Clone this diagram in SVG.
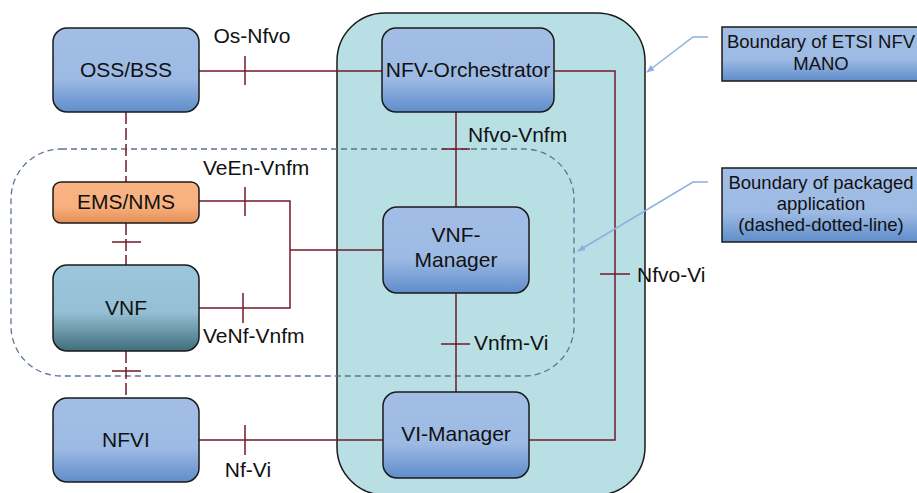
<svg xmlns="http://www.w3.org/2000/svg" width="917" height="493" viewBox="0 0 917 493">
  <style>
    .node { stroke: #1a1a1a; stroke-width: 1.5; }
    .lbl { font-family: "Liberation Sans", Arial, sans-serif; font-size: 21px; fill: #111; text-anchor: middle; }
    .ifc { font-family: "Liberation Sans", Arial, sans-serif; font-size: 21px; fill: #111; }
    .note { font-family: "Liberation Sans", Arial, sans-serif; font-size: 18.5px; fill: #111; text-anchor: middle; }
    .wire { fill: none; stroke: #74192a; stroke-width: 1.5; }
    .dash { fill: none; stroke: #74192a; stroke-width: 1.5; stroke-dasharray: 12 4; }
    .tick { stroke: #74192a; stroke-width: 1.5; }
    .pointer { fill: none; stroke: #8db0e0; stroke-width: 1.5; }
  </style>
  <defs>
    <linearGradient id="gBlue" x1="0" y1="0" x2="0" y2="1">
      <stop offset="0" stop-color="#a2bee6"/>
      <stop offset="0.6" stop-color="#9dbae4"/>
      <stop offset="1" stop-color="#5f8dca"/>
    </linearGradient>
    <linearGradient id="gOrange" x1="0" y1="0" x2="0" y2="1">
      <stop offset="0" stop-color="#fab584"/>
      <stop offset="0.6" stop-color="#f7b07e"/>
      <stop offset="1" stop-color="#e48f55"/>
    </linearGradient>
    <linearGradient id="gTeal" x1="0" y1="0" x2="0" y2="1">
      <stop offset="0" stop-color="#9dc6dc"/>
      <stop offset="0.55" stop-color="#95bfd4"/>
      <stop offset="1" stop-color="#3f6e7c"/>
    </linearGradient>
    <marker id="arrowTip" viewBox="0 0 10 10" refX="9" refY="5" markerWidth="8" markerHeight="8" orient="auto" markerUnits="userSpaceOnUse">
      <path d="M0,1 L10,5 L0,9 z" fill="#8db0e0"/>
    </marker>
  </defs>

  <!-- MANO boundary -->
  <rect id="mano-boundary" x="337" y="13" width="308" height="482" rx="48" ry="48" fill="#b8dfe4" stroke="#1a1a1a" stroke-width="1.5"/>

  <!-- packaged application boundary -->
  <rect id="app-boundary" x="11" y="149" width="563" height="227" rx="50" ry="50" fill="none" stroke="#5c7494" stroke-width="1.3" stroke-dasharray="6 4"/>

  <!-- connectors -->
  <g id="connectors">
    <!-- Os-Nfvo -->
    <line class="wire" x1="199" y1="71" x2="382" y2="71"/>
    <line class="tick" x1="245" y1="56" x2="245" y2="85"/>
    <!-- Nfvo-Vi -->
    <polyline class="wire" points="554,71 615,71 615,440 529,440"/>
    <line class="tick" x1="600" y1="274" x2="630" y2="274"/>
    <!-- Nfvo-Vnfm -->
    <line class="wire" x1="456" y1="112" x2="456" y2="207"/>
    <line class="tick" x1="442" y1="149" x2="470" y2="149"/>
    <!-- Vnfm-Vi -->
    <line class="wire" x1="456" y1="293" x2="456" y2="392"/>
    <line class="tick" x1="441" y1="344" x2="470" y2="344"/>
    <!-- VeEn-Vnfm / VeNf-Vnfm -->
    <polyline class="wire" points="199,201 290,201 290,308 199,308"/>
    <line class="wire" x1="290" y1="250" x2="383" y2="250"/>
    <line class="tick" x1="245" y1="187" x2="245" y2="216"/>
    <line class="tick" x1="243" y1="293" x2="243" y2="323"/>
    <!-- Nf-Vi -->
    <line class="wire" x1="199" y1="440" x2="383" y2="440"/>
    <line class="tick" x1="245" y1="425" x2="245" y2="455"/>
    <!-- vertical chain OSS - EMS - VNF - NFVI -->
    <line class="dash" x1="126" y1="112" x2="126" y2="182"/>
    <line class="dash" x1="126" y1="223" x2="126" y2="265"/>
    <line class="tick" x1="112" y1="242" x2="141" y2="242"/>
    <line class="dash" x1="126" y1="351" x2="126" y2="398"/>
    <line class="tick" x1="112" y1="371" x2="141" y2="371"/>
    <!-- callout pointers -->
    <polyline class="pointer" points="708,37 693,37 647,72" marker-end="url(#arrowTip)"/>
    <polyline class="pointer" points="708,182 693,182 578,251" marker-end="url(#arrowTip)"/>
  </g>

  <!-- interface labels -->
  <text class="ifc" x="252" y="43" text-anchor="middle">Os-Nfvo</text>
  <text class="ifc" x="468" y="142">Nfvo-Vnfm</text>
  <text class="ifc" x="637" y="282">Nfvo-Vi</text>
  <text class="ifc" x="474" y="350">Vnfm-Vi</text>
  <text class="ifc" x="203" y="175">VeEn-Vnfm</text>
  <text class="ifc" x="203" y="343">VeNf-Vnfm</text>
  <text class="ifc" x="248" y="477" text-anchor="middle">Nf-Vi</text>

  <!-- nodes -->
  <g id="oss-bss">
    <rect class="node" x="53" y="28" width="146" height="84" rx="14" fill="url(#gBlue)"/>
    <text class="lbl" x="126" y="77">OSS/BSS</text>
  </g>
  <g id="nfv-orchestrator">
    <rect class="node" x="382" y="28" width="172" height="84" rx="14" fill="url(#gBlue)"/>
    <text class="lbl" x="468" y="77">NFV-Orchestrator</text>
  </g>
  <g id="ems-nms">
    <rect class="node" x="53" y="182" width="146" height="41" rx="8" fill="url(#gOrange)"/>
    <text class="lbl" x="126" y="209">EMS/NMS</text>
  </g>
  <g id="vnf">
    <rect class="node" x="53" y="265" width="146" height="86" rx="14" fill="url(#gTeal)"/>
    <text class="lbl" x="126" y="315">VNF</text>
  </g>
  <g id="vnf-manager">
    <rect class="node" x="383" y="207" width="146" height="86" rx="14" fill="url(#gBlue)"/>
    <text class="lbl" x="456" y="242">VNF-</text>
    <text class="lbl" x="456" y="267">Manager</text>
  </g>
  <g id="nfvi">
    <rect class="node" x="53" y="398" width="146" height="84" rx="14" fill="url(#gBlue)"/>
    <text class="lbl" x="126" y="447">NFVI</text>
  </g>
  <g id="vi-manager">
    <rect class="node" x="383" y="392" width="146" height="86" rx="14" fill="url(#gBlue)"/>
    <text class="lbl" x="456" y="441">VI-Manager</text>
  </g>

  <!-- callout notes -->
  <g id="note-mano">
    <rect class="node" x="722" y="27" width="197" height="54" fill="url(#gBlue)"/>
    <text class="note" x="821" y="48">Boundary of ETSI NFV</text>
    <text class="note" x="821" y="70">MANO</text>
  </g>
  <g id="note-app">
    <rect class="node" x="722" y="168" width="197" height="74" fill="url(#gBlue)"/>
    <text class="note" x="821" y="189">Boundary of packaged</text>
    <text class="note" x="821" y="210">application</text>
    <text class="note" x="821" y="231">(dashed-dotted-line)</text>
  </g>
</svg>
